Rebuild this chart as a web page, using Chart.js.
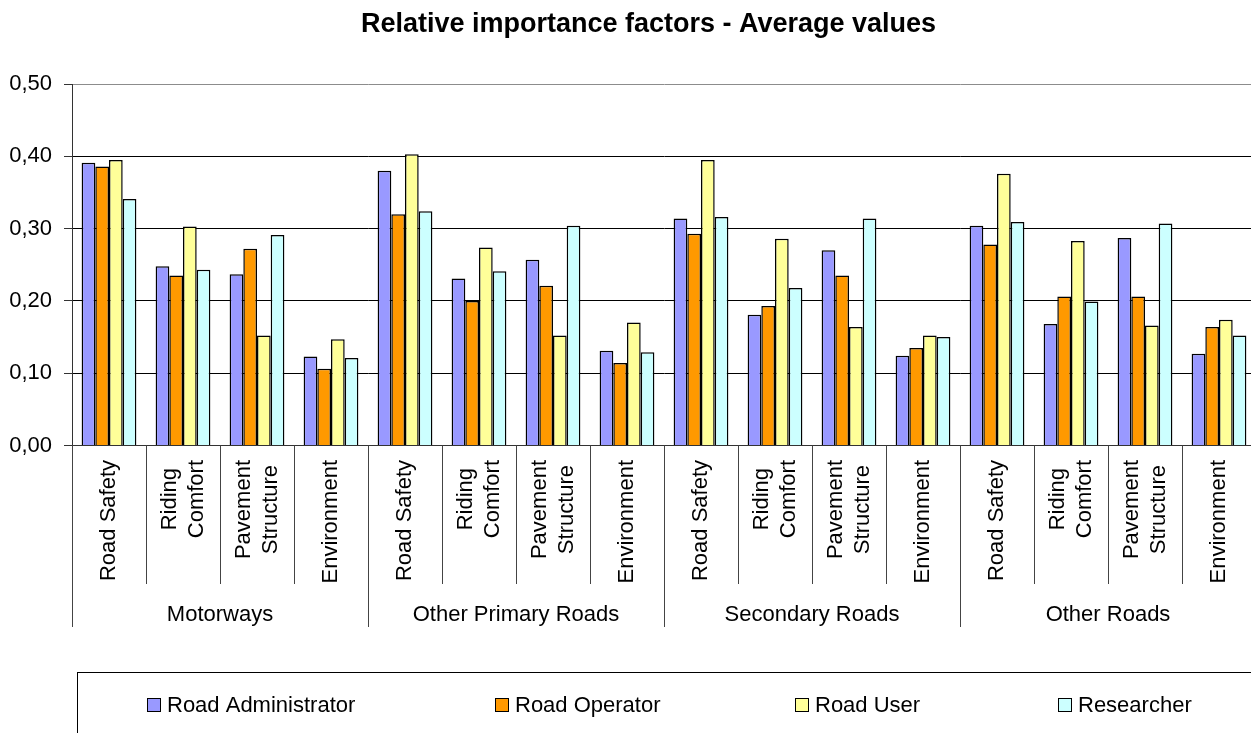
<!DOCTYPE html>
<html>
<head>
<meta charset="utf-8">
<title>Relative importance factors - Average values</title>
<script src="https://cdn.jsdelivr.net/npm/chart.js@4.4.1/dist/chart.umd.min.js"></script>
<style>
  html, body { margin: 0; padding: 0; background: #fff; overflow: hidden; }
  canvas { display: block; }
</style>
</head>
<body>
<canvas id="chart" width="1256" height="733"></canvas>
<script>
// road classes and the four factors rated for each of them
const groups = ["Motorways", "Other Primary Roads", "Secondary Roads", "Other Roads"];
const factors = [["Road Safety"], ["Riding", "Comfort"], ["Pavement", "Structure"], ["Environment"]];

// average values per respondent type, 16 categories (4 factors x 4 road classes)
const roadAdministrator = [0.391, 0.248, 0.237, 0.123, 0.380, 0.231, 0.257, 0.131, 0.314, 0.181, 0.270, 0.124, 0.304, 0.168, 0.287, 0.127];
const roadOperator      = [0.386, 0.235, 0.272, 0.106, 0.320, 0.200, 0.221, 0.114, 0.293, 0.193, 0.235, 0.135, 0.278, 0.206, 0.206, 0.164];
const roadUser          = [0.395, 0.303, 0.152, 0.147, 0.403, 0.274, 0.152, 0.170, 0.395, 0.286, 0.164, 0.152, 0.376, 0.283, 0.166, 0.174];
const researcher        = [0.341, 0.243, 0.291, 0.121, 0.324, 0.241, 0.304, 0.129, 0.316, 0.218, 0.314, 0.150, 0.309, 0.199, 0.307, 0.152];

const seriesNames = ["Road Administrator", "Road Operator", "Road User", "Researcher"];
const yMax = 0.5;
const yStep = 0.1;

const SERIES_COLORS = ["#9999FF", "#FF9900", "#FFFF99", "#CCFFFF"];
const FONT = '"Liberation Sans", Arial, sans-serif';

const labels = groups.flatMap(() => factors);
const seriesValues = [roadAdministrator, roadOperator, roadUser, researcher];

// multi-level axis labels, title and boxed legend, drawn the way the spreadsheet did
const decorPlugin = {
  id: "decor",
  afterDraw(chart) {
    const { ctx, chartArea } = chart;
    const xs = chart.scales.x;
    const w = (chartArea.right - chartArea.left) / labels.length;
    ctx.save();

    // title
    ctx.fillStyle = "#000";
    ctx.font = "bold 27px " + FONT;
    ctx.textAlign = "center";
    ctx.textBaseline = "alphabetic";
    ctx.fillText("Relative importance factors - Average values", 648.5, 32);

    // category / group separators
    ctx.strokeStyle = "#444";
    ctx.lineWidth = 1;
    for (let k = 0; k <= labels.length; k++) {
      const px = Math.round(chartArea.left + k * w) + 0.5;
      ctx.beginPath();
      ctx.moveTo(px, chartArea.bottom);
      ctx.lineTo(px, k % factors.length === 0 ? 627 : 584);
      ctx.stroke();
    }

    // rotated factor labels
    ctx.font = "22px " + FONT;
    ctx.textAlign = "center";
    ctx.textBaseline = "middle";
    labels.forEach((lines, i) => {
      const cx = xs.getPixelForValue(i);
      const blockW = Math.max(...lines.map(l => ctx.measureText(l).width));
      ctx.save();
      ctx.translate(cx, 460 + blockW / 2);
      ctx.rotate(-Math.PI / 2);
      lines.forEach((l, j) => ctx.fillText(l, 0, (j - (lines.length - 1) / 2) * 27));
      ctx.restore();
    });

    // road class labels
    ctx.textBaseline = "alphabetic";
    groups.forEach((g, gi) => {
      const cx = chartArea.left + (gi * factors.length + factors.length / 2) * w;
      ctx.fillText(g, cx, 621);
    });

    // legend box
    ctx.strokeStyle = "#000";
    ctx.strokeRect(77.5, 672.5, 1300, 200);
    const legendX = [147.5, 495.5, 795.5, 1058.5];
    ctx.font = "22px " + FONT;
    ctx.textAlign = "left";
    chart.data.datasets.forEach((ds, i) => {
      ctx.fillStyle = ds.backgroundColor;
      ctx.fillRect(legendX[i], 698.5, 13, 13);
      ctx.strokeStyle = "#000";
      ctx.strokeRect(legendX[i], 698.5, 13, 13);
      ctx.fillStyle = "#000";
      ctx.fillText(ds.label, legendX[i] + 19.5, 712);
    });

    ctx.restore();
  },
};

new Chart(document.getElementById("chart"), {
  type: "bar",
  data: {
    labels: labels,
    datasets: seriesNames.map((name, i) => ({
      label: name,
      data: seriesValues[i],
      backgroundColor: SERIES_COLORS[i],
      borderColor: "#000",
      borderWidth: 1.5,
      categoryPercentage: 0.74,
      barPercentage: 1.0,
    })),
  },
  options: {
    responsive: false,
    animation: false,
    devicePixelRatio: 1,
    layout: { padding: { top: 84, left: 0, right: 0, bottom: 0 } },
    plugins: {
      legend: { display: false },
      title: { display: false },
      tooltip: { enabled: false },
    },
    scales: {
      x: {
        ticks: { display: false },
        grid: { display: false },
        border: { display: true, color: "#333", width: 1 },
        afterFit: s => { s.height = 287.5; },
      },
      y: {
        min: 0,
        max: yMax,
        ticks: {
          stepSize: yStep,
          color: "#000",
          font: { family: FONT, size: 22 },
          padding: 12,
          callback: v => v.toFixed(2).replace(".", ","),
        },
        grid: {
          color: c => (Math.abs(c.tick.value - yMax) < 1e-9 ? "#8c8c8c" : "#000"),
          tickColor: "#333",
          tickLength: 8,
        },
        border: { display: true, color: "#333", width: 1 },
        afterFit: s => { s.width = 72; },
      },
    },
  },
  plugins: [decorPlugin],
});
</script>
</body>
</html>
